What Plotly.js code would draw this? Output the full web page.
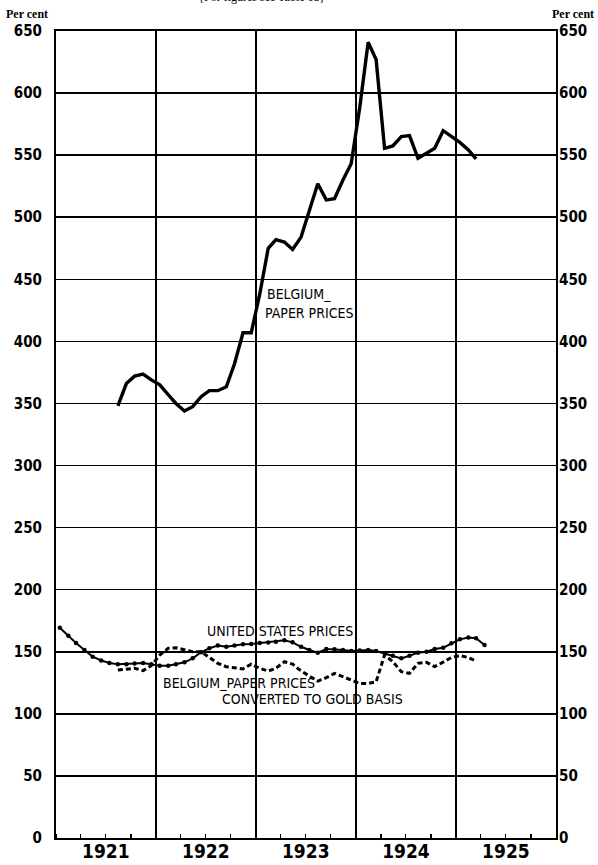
<!DOCTYPE html>
<html>
<head>
<meta charset="utf-8">
<script src="https://cdn.plot.ly/plotly-3.0.1.min.js"></script>
<style>
html,body{margin:0;padding:0;background:#fff;}
#chart{width:598px;height:865px;}
</style>
</head>
<body>
<div id="chart"></div>
<script>
// ---- data (index, monthly) ----
const usStart = [1921, 1];          // January 1921
const usPrices = [
  169.4,163,157,151.5,146,143,141,140,140,140.5,141,140,
  138.8,138.8,140,141.5,144.7,149.6,152.8,155,154,155,156,156.3,
  157,157.4,158,159.2,157.6,154,151.4,149.3,152.2,152,151.4,150.6,
  151,151.4,150.6,148.7,146.8,144.7,146.8,149.3,150,152.2,153.3,156.8,
  160,161.4,160.9,155.5
];
const belgStart = [1921, 8];        // August 1921
const belgPaper = [
  348,366,372,373.7,369,
  365,357,350,344,347.4,355.5,360.3,360.3,363.5,382,407,407,
  438,475,482,480,474,484,506,527,514,515,530,543,
  588,641,627,555.5,557.4,565,565.7,547.5,551.5,555.5,569.7,565.4,
  560.3,554.2,547
];
const belgGold = [
  135.3,136.2,136.7,134.8,138.8,
  147.4,152.8,153.3,151.4,150,150,145.3,140.7,138,137.3,136.2,140,
  136.7,134.5,136.7,142,140,134.5,130.7,126.4,129.1,132.6,129.9,127.2,
  124.5,124.5,125.8,147.4,142,134,132.6,140.7,141.5,138,142,145.3,
  147,145.3,142.6
];
const yearLabels = ['1921','1922','1923','1924','1925'];
const yTicks = [0,50,100,150,200,250,300,350,400,450,500,550,600,650];

// ---- helpers ----
function pad(n){return (n<10?'0':'')+n;}
function monthDates(start, count){
  const out=[]; let y=start[0], m=start[1];
  for(let i=0;i<count;i++){ out.push(y+'-'+pad(m)+'-15'); m++; if(m>12){m=1;y++;} }
  return out;
}
const firstYear = +yearLabels[0];
const yearStarts = yearLabels.slice(1).map(y=>y+'-01-01');
const midYears = yearLabels.map(y=>y+'-07-02');
const quarterStarts = [];
yearLabels.forEach(y=>['01','04','07','10'].forEach(q=>quarterStarts.push(y+'-'+q+'-01')));
const xRange = [firstYear+'-01-01', (firstYear+yearLabels.length)+'-01-01'];

const NARROW = 'Liberation Sans Narrow, Arial Narrow, DejaVu Sans Condensed, Liberation Sans, sans-serif';
const SERIF = 'Liberation Serif, DejaVu Serif, serif';

const traces = [
  {
    x: monthDates(belgStart, belgGold.length), y: belgGold,
    mode:'lines', line:{color:'#000', width:3, dash:'5px,3px'},
    hoverinfo:'skip'
  },
  {
    x: monthDates(usStart, usPrices.length), y: usPrices,
    mode:'lines+markers', line:{color:'#000', width:2},
    marker:{color:'#000', size:4.5}, hoverinfo:'skip'
  },
  {
    x: monthDates(belgStart, belgPaper.length), y: belgPaper,
    mode:'lines', line:{color:'#000', width:3.4}, hoverinfo:'skip'
  },
  {
    x:[midYears[0]], y:[null], xaxis:'x2', yaxis:'y2', mode:'lines', hoverinfo:'skip'
  }
];

const tickFont = {family:NARROW, size:15, color:'#000', weight:700};
const annFont = {family:NARROW, size:14, color:'#000', weight:500};

function px2x(p){return (p-56)/500;}
function px2y(p){return (838-p)/807;}

const layout = {
  width:598, height:865,
  margin:{l:56, r:42, t:31, b:27, pad:0},
  paper_bgcolor:'#fff', plot_bgcolor:'#fff',
  showlegend:false,
  xaxis:{
    type:'date', range:xRange, tickmode:'array', tickvals:yearStarts,
    showticklabels:false, ticks:'', showgrid:true, gridcolor:'#000', gridwidth:2,
    showline:true, linecolor:'#000', linewidth:2, mirror:true, zeroline:false,
    minor:{tickmode:'array', tickvals:quarterStarts, ticks:'inside', ticklen:4,
           tickwidth:1.5, tickcolor:'#000', showgrid:false}
  },
  xaxis2:{
    type:'date', range:xRange, overlaying:'x', side:'bottom', anchor:'y',
    tickmode:'array', tickvals:midYears, ticktext:yearLabels, ticks:'',
    showgrid:false, showline:false, zeroline:false, ticklabelstandoff:0,
    tickfont:{family:NARROW, size:19, color:'#000', weight:700}
  },
  yaxis:{
    range:[0,650], tickmode:'array', tickvals:yTicks, ticks:'',
    showgrid:true, gridcolor:'#000', gridwidth:1.5,
    showline:true, linecolor:'#000', linewidth:2, mirror:true, zeroline:false,
    ticklabelstandoff:9, tickfont:tickFont
  },
  yaxis2:{
    range:[0,650], overlaying:'y', side:'right', anchor:'x',
    tickmode:'array', tickvals:yTicks, ticks:'', showgrid:false, zeroline:false,
    showline:false, ticklabelstandoff:2, tickfont:tickFont
  },
  annotations:[
    {text:'BELGIUM_', xref:'paper', yref:'paper', x:px2x(265), y:px2y(294), xanchor:'left', yanchor:'middle', showarrow:false, font:annFont},
    {text:'PAPER PRICES', xref:'paper', yref:'paper', x:px2x(263), y:px2y(312.5), xanchor:'left', yanchor:'middle', showarrow:false, font:annFont},
    {text:'UNITED STATES PRICES', xref:'paper', yref:'paper', x:px2x(205), y:px2y(631), xanchor:'left', yanchor:'middle', showarrow:false, font:annFont},
    {text:'BELGIUM_PAPER PRICES', xref:'paper', yref:'paper', x:px2x(161), y:px2y(683), xanchor:'left', yanchor:'middle', showarrow:false, font:annFont},
    {text:'CONVERTED TO GOLD BASIS', xref:'paper', yref:'paper', x:px2x(220), y:px2y(699), xanchor:'left', yanchor:'middle', showarrow:false, font:annFont},
    {text:'Per cent', xref:'paper', yref:'paper', x:px2x(4), y:px2y(14), xanchor:'left', yanchor:'middle', showarrow:false, font:{family:SERIF, size:12, color:'#000', weight:700}},
    {text:'Per cent', xref:'paper', yref:'paper', x:px2x(596), y:px2y(14), xanchor:'right', yanchor:'middle', showarrow:false, font:{family:SERIF, size:12, color:'#000', weight:700}},
    {text:'[For figures see Table 18]', xref:'paper', yref:'paper', x:px2x(262), y:px2y(-3), xanchor:'center', yanchor:'middle', showarrow:false, font:{family:SERIF, size:12, color:'#000'}}
  ]
};

Plotly.newPlot('chart', traces, layout, {staticPlot:true, displayModeBar:false});
</script>
</body>
</html>
